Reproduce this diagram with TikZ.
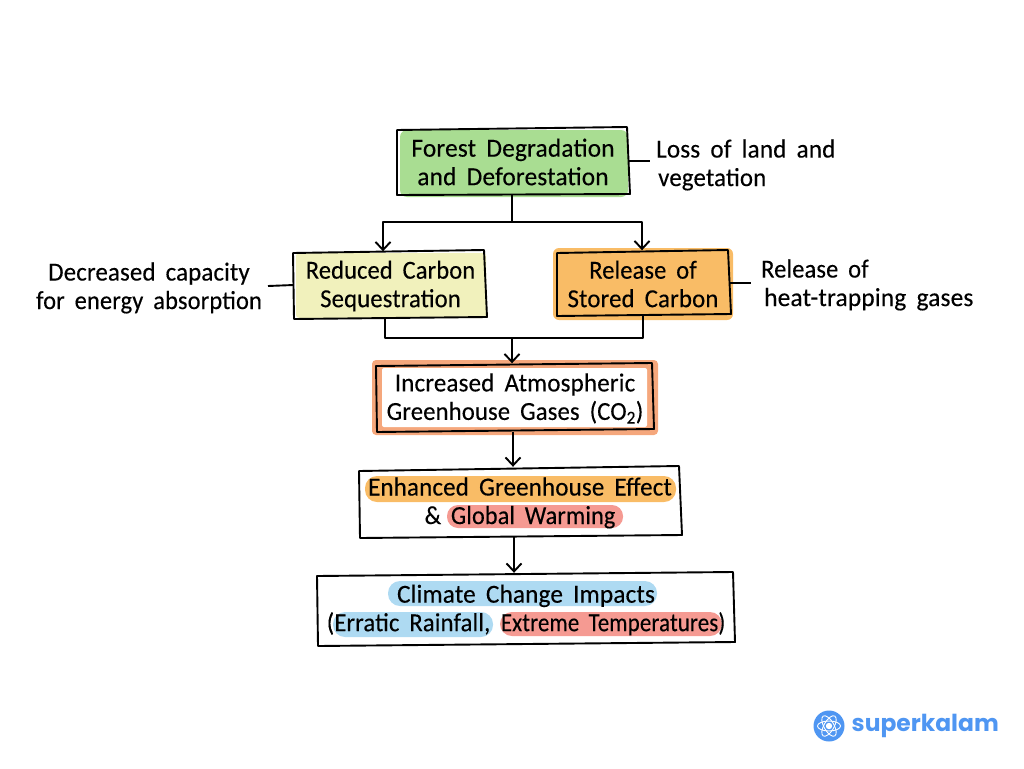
\documentclass[tikz,border=0pt]{standalone}
\usepackage{graphicx}
\usepackage{fontspec}
\setmainfont[WordSpace=1.75,LetterSpace=0.6,FakeBold=0.25]{Carlito}
\newfontfamily\logofont{Poppins}
\usetikzlibrary{arrows.meta}
\definecolor{hlgreen}{HTML}{A9DD92}
\definecolor{hlyellow}{HTML}{F1F1BC}
\definecolor{hlorange}{HTML}{F9BC66}
\definecolor{hlcoral}{HTML}{F5A77C}
\definecolor{hlred}{HTML}{F59A92}
\definecolor{hlblue}{HTML}{AEDAF2}
\definecolor{logoblue}{HTML}{4F96F2}
\newcommand{\sx}[2]{\scalebox{#1}[1]{#2}}
\newcommand{\lift}{\rule{0pt}{20pt}}
\tikzset{
  flowbox/.style={inner sep=0pt,align=center,font=\fontsize{26}{28.5}\selectfont,text=black},
  sidelabel/.style={inner sep=0pt,font=\fontsize{26}{28.5}\selectfont,text=black},
  outline/.style={draw=black,line width=1.9pt,line join=round},
  link/.style={draw=black,line width=1.9pt,line join=round},
  arrowlink/.style={link,-{Straight Barb[length=8pt,width=15pt,line width=1.9pt]}},
  hl/.style={rounded corners=#1,draw=none},
  hl/.default=11pt
}
\begin{document}
\begin{tikzpicture}[x=1pt,y=-1pt]
\useasboundingbox (0,0) rectangle (1024,768);
% highlights
\fill[hlgreen,hl=7pt] (400,130) rectangle (628,197);
\fill[hlyellow,hl=3pt] (296,253) rectangle (486,318);
\fill[hlorange,hl=6pt] (553,248) rectangle (733,320);
\fill[hlcoral,hl=4pt] (372,360) rectangle (658,435);
\fill[white,hl=2pt] (382,368) rectangle (647,427);
\fill[hlorange,hl=12pt] (365,476) rectangle (676,502);
\fill[hlred,hl=11pt] (447,505) rectangle (623,528);
\fill[hlblue,hl=12pt] (388,581) rectangle (657,606);
\fill[hlblue,hl=12pt] (333,612) rectangle (493,637);
\fill[hlred,hl=12pt] (500,612) rectangle (722,636);
% boxes
\node[flowbox,minimum width=232pt,minimum height=66pt] (forest) at (513,161) {\lift\sx{.976}{Forest Degradation}\\\sx{.975}{and Deforestation}};
\node[flowbox,minimum width=193pt,minimum height=67pt] (reduced) at (390.5,285) {\lift\sx{.94}{Reduced Carbon}\\\sx{.95}{Sequestration}};
\node[flowbox,minimum width=174pt,minimum height=65pt] (release) at (643,283) {\lift\sx{.94}{Release of}\\\sx{.955}{Stored Carbon}};
\node[flowbox,minimum width=277pt,minimum height=68pt] (increased) at (515,397.5) {\lift\sx{.964}{Increased Atmospheric}\\\sx{.948}{Greenhouse Gases (CO\textsubscript{2})}};
\node[flowbox,minimum width=322pt,minimum height=70pt] (enhanced) at (520,502) {\lift\sx{.962}{Enhanced Greenhouse Effect}\\\sx{.93}{\& Global Warming}};
\node[flowbox,minimum width=418pt,minimum height=72pt] (climate) at (526,609) {\lift\sx{.97}{Climate Change Impacts}\\\sx{.946}{(Erratic Rainfall,} \sx{.88}{Extreme Temperatures)}};
% hand-drawn outlines of the boxes
\draw[outline] (397,130) -- (627,127) -- (630,194) -- (397,195) -- cycle;
\draw[outline] (293,253) -- (484,250) -- (487,317) -- (294,319) -- cycle;
\draw[outline] (557,253) -- (728,250) -- (731,314) -- (557,316) -- cycle;
\draw[outline] (376,366) -- (652,363) -- (654,429) -- (377,432) -- cycle;
\draw[outline] (359,471) -- (679,466) -- (682,535) -- (360,538) -- cycle;
\draw[outline] (317,576) -- (733,572) -- (735,642) -- (318,646) -- cycle;
% side labels
\node[sidelabel,align=left,anchor=west] (loss) at (656,165) {\sx{.968}{Loss of land and}\\\hspace{2pt}\sx{.956}{vegetation}};
\node[sidelabel,align=center] (capacity) at (149,288) {\sx{.957}{Decreased capacity}\\\sx{.94}{for energy absorption}};
\node[sidelabel,align=left,anchor=west] (heat) at (761,285) {\sx{.94}{Release of}\\\hspace{3pt}\sx{.977}{heat-trapping gases}};
% junctions
\coordinate (splitA) at (512,222);
\coordinate (joinA) at (512,338);
% connectors
\draw[link] (forest.south -| splitA) -- (splitA);
\draw[arrowlink] (splitA) -| ([xshift=-7.5pt]reduced.north);
\draw[arrowlink] (splitA) -| ([xshift=-1pt]release.north);
\draw[link] ([xshift=-5.5pt]reduced.south) |- (joinA);
\draw[link] (release.south) |- (joinA);
\draw[arrowlink] (joinA) -- (joinA |- increased.north);
\draw[arrowlink] ([xshift=-2pt]increased.south) -- ([xshift=-7pt]enhanced.north);
\draw[arrowlink] ([xshift=-6pt]enhanced.south) -- ([xshift=-12pt]climate.north);
\draw[link] (forest.east) -- ++(21pt,0) coordinate (lossEnd);
\coordinate (capEnd) at (268,286);
\draw[link] (capEnd) -- (reduced.west);
\draw[link] (release.east) -- ++(21pt,0) coordinate (heatEnd);
% logo
\node[circle,fill=logoblue,minimum size=31pt,inner sep=0pt] (logo) at (829,726) {};
\foreach \a in {0,60,120}{
  \draw[white,line width=0.9pt,rotate around={\a:(logo.center)}] (logo.center) ellipse (11.5pt and 5pt);
}
\fill[white] (logo.center) circle (3.2pt);
\node[anchor=west,inner sep=0pt,text=logoblue,font=\logofont\fontsize{23.4}{28}\selectfont] (brand) at (851.5,726) {\textbf{superkalam}};
\end{tikzpicture}
\end{document}
